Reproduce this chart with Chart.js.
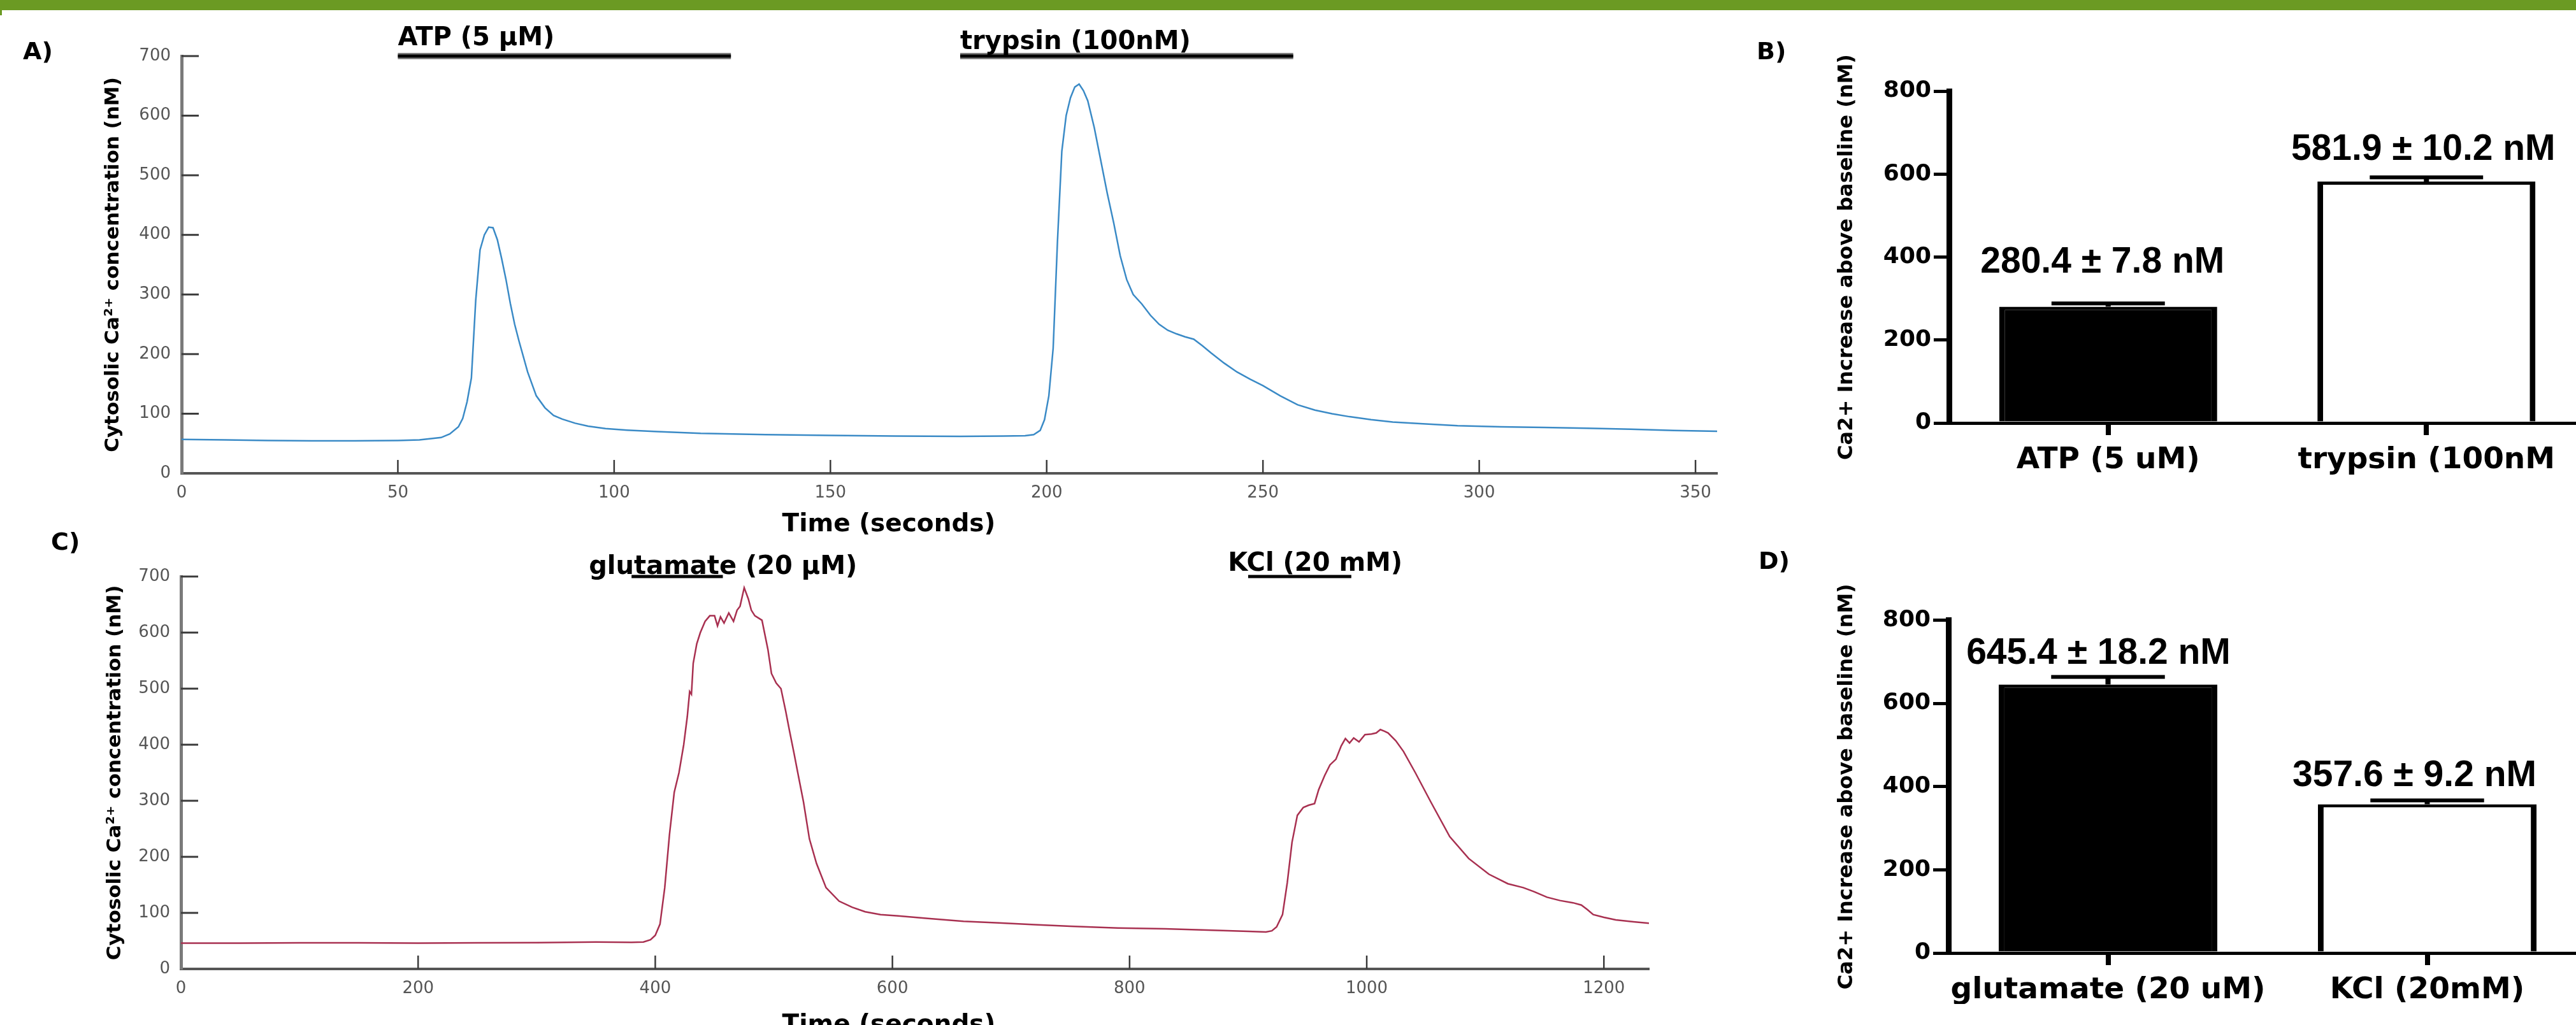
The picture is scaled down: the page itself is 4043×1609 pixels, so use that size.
<!DOCTYPE html>
<html><head><meta charset="utf-8">
<script src="https://cdn.jsdelivr.net/npm/chart.js@4.4.1/dist/chart.umd.min.js"></script>
<style>
html,body{margin:0;padding:0;background:#fff;overflow:hidden;width:4043px;height:1609px;position:relative}
#banner{position:absolute;left:0;top:0;width:4043px;height:16px;background:#6b9a23}
#nub{position:absolute;left:0;top:16px;width:3px;height:8px;background:#6b9a23}
canvas{position:absolute}
</style></head><body>
<div id="banner"></div><div id="nub"></div>
<canvas id="cA"></canvas><canvas id="cB"></canvas><canvas id="cC"></canvas><canvas id="cD"></canvas>
<script>
// ---------- data ----------
const timeA = [0,10,20,30,40,50,55,60,62,64,65,66,67,68,69,70,71,72,73,74,75,76,77,78,80,82,84,86,88,91,94,98,103,110,120,135,150,165,180,190,195,197,198.5,199.5,200.5,201.5,202.5,203.5,204.5,205.5,206.5,207.5,208.5,209.5,211,212.5,214,215.5,217,218.5,220,222,224,226,228,230,232,234,236,238,241,244,247,250,254,258,262,266,270,275,280,287,295,305,315,325,335,345,355];
const caA = [57,56,55,54.5,54.5,55,56,60,66,78,92,120,160,290,375,400,413,412,392,360,325,285,250,222,170,130,110,97,91,84,79,75,72.5,70,67,65,63.5,62.5,62,62.5,63,65,72,90,130,210,390,540,600,630,648,653,642,625,580,525,470,420,365,325,300,284,265,250,240,234,229,225,214,202,185,170,158,147,130,115,106,100,95,90,86,83,80,78,77,75.5,74,72,70.5];
const stimA = ['ATP (5 µM)', 'trypsin (100nM)'];
const stimAStart = [50, 180];
const stimAEnd = [127, 257];

const timeC = [0,50,100,150,200,250,300,350,380,390,396,400,404,408,412,416,420,424,427,429,430.5,432,435,438,442,446,450,452.5,455,458,462,466,469,471.5,475,478.5,481,484,490,495,498,502,506,510,513,517,520,525,530,536,544,555,566,577,590,605,630,660,690,720,750,790,830,870,900,915,920,924,929,933,937,941.5,946.5,951,956,959.5,964.5,969,974,978.5,982,985.5,989,993.5,998.5,1004,1008,1011.5,1015,1018,1024.5,1031,1041,1054,1070,1086,1103,1119,1132,1141,1152,1163,1174,1181,1186,1191,1200,1210,1225,1238];
const caC = [46,46,46.5,46.5,46,46.5,47,48,47.5,48,52,60,80,145,240,315,350,400,450,495,490,545,580,600,620,630,630,612,628,617,635,620,640,647,680,660,640,630,622,570,527,510,500,460,427,385,352,298,232,188,145,121,110,102,97,94.5,90,85,82,79,76,73,71.5,69,67,66,68,75,97,154,226,274,288,292,295,320,345,364,374,398,411,403,412,405,418,419,421,427,424,421,407,388,350,298,236,197,169,152,145,138,128,122,118,114,106,97,92,87.5,84,81.5];
const stimC = ['glutamate (20 µM)', 'KCl (20 mM)'];
const stimCStart = [380, 900];
const stimCEnd = [457, 987];

const catB = ['ATP (5 uM)', 'trypsin (100nM'];
const meanB = [280.4, 581.9];
const semB = [7.8, 10.2];
const catD = ['glutamate (20 uM)', 'KCl (20mM)'];
const meanD = [645.4, 357.6];
const semD = [18.2, 9.2];

const xTicksA = [0,50,100,150,200,250,300,350];
const xTicksC = [0,200,400,600,800,1000,1200];
const yTicksTrace = [0,100,200,300,400,500,600,700];
const yTicksBar = [0,200,400,600,800];

// ---------- layout helpers ----------
const boxes = {
  A: {x:0, y:0, w:2800, h:860},
  C: {x:0, y:800, w:2800, h:809},
  B: {x:2740, y:0, w:1360, h:800},
  D: {x:2740, y:800, w:1360, h:809}
};
function place(id, box){
  const c = document.getElementById(id);
  c.width = box.w; c.height = box.h;
  c.style.left = box.x + 'px'; c.style.top = box.y + 'px';
  c.style.width = box.w + 'px'; c.style.height = box.h + 'px';
  return c;
}
function frame(box, area, titleX, titleSize, xH){
  const tPad = 4;
  const left = titleX - box.x - 0.6 * titleSize - tPad;
  return {
    padding: {left: left, top: area.t - box.y, right: box.x + box.w - area.r, bottom: box.y + box.h - area.b - xH},
    yW: area.l - box.x - left, xH: xH, tPad: tPad
  };
}
Chart.defaults.font.family = '"DejaVu Sans", sans-serif';

function drawTexts(ctx, box, texts){
  ctx.save();
  ctx.translate(-box.x, -box.y);
  texts.forEach(t => {
    ctx.font = t.font; ctx.fillStyle = '#000';
    ctx.textAlign = t.align || 'left'; ctx.textBaseline = 'alphabetic';
    ctx.fillText(t.text, t.x, t.y);
  });
  ctx.restore();
}

// ---------- trace decorations (inward ticks, stimulus bars, labels) ----------
const traceDeco = {
  id: 'traceDeco',
  afterDraw(chart, args, o){
    const ctx = chart.ctx, xs = chart.scales.x, ys = chart.scales.y, ca = chart.chartArea;
    ctx.save();
    ctx.strokeStyle = '#3a3a3a';
    ctx.lineWidth = 3;
    ys.ticks.forEach(t => {
      if (t.value === 0) return;
      const py = ys.getPixelForValue(t.value);
      ctx.beginPath(); ctx.moveTo(ca.left, py); ctx.lineTo(ca.left + 27, py); ctx.stroke();
    });
    ctx.lineWidth = 2.5;
    xs.ticks.forEach(t => {
      if (t.value === 0) return;
      const px = xs.getPixelForValue(t.value);
      ctx.beginPath(); ctx.moveTo(px, ca.bottom); ctx.lineTo(px, ca.bottom - 21); ctx.stroke();
    });
    // stimulus bars
    const by = ys.getPixelForValue(700);
    o.starts.forEach((s, i) => {
      const x1 = xs.getPixelForValue(s), x2 = xs.getPixelForValue(o.ends[i]);
      ctx.lineCap = 'butt';
      if (o.outline) {
        ctx.strokeStyle = '#808080'; ctx.lineWidth = 10;
        ctx.beginPath(); ctx.moveTo(x1, by); ctx.lineTo(x2, by); ctx.stroke();
      }
      ctx.strokeStyle = '#000'; ctx.lineWidth = 5;
      ctx.beginPath(); ctx.moveTo(x1, by); ctx.lineTo(x2, by); ctx.stroke();
      ctx.font = 'bold 40px "DejaVu Sans"'; ctx.fillStyle = '#000';
      ctx.textAlign = 'left'; ctx.textBaseline = 'alphabetic';
      ctx.fillText(o.names[i], xs.getPixelForValue(o.textAt[i]), o.textY[i] - o.box.y);
    });
    ctx.restore();
    drawTexts(ctx, o.box, o.texts);
  }
};

function traceChart(id, box, area, times, values, color, xMax, xTicks, deco){
  const f = frame(box, area, deco.titleX, 31, 60);
  deco.box = box;
  return new Chart(place(id, box), {
    type: 'line',
    data: { datasets: [{ data: times.map((t, i) => ({x: t, y: values[i]})), borderColor: color, borderWidth: 2.5, pointRadius: 0, tension: 0, fill: false }] },
    options: {
      responsive: false, animation: false, devicePixelRatio: 1,
      layout: { padding: f.padding },
      plugins: { legend: {display: false}, tooltip: {enabled: false}, traceDeco: deco },
      scales: {
        x: {
          type: 'linear', min: 0, max: xMax,
          afterBuildTicks: s => { s.ticks = xTicks.map(v => ({value: v})); },
          afterFit: s => { s.height = f.xH; },
          grid: { display: true, drawOnChartArea: false, drawTicks: false },
          border: { display: true, color: '#555', width: 4 },
          ticks: { color: '#555', font: { size: 26 }, padding: 16, maxRotation: 0, autoSkip: false, callback: v => String(v) }
        },
        y: {
          min: 0, max: 700,
          afterBuildTicks: s => { s.ticks = yTicksTrace.map(v => ({value: v})); },
          afterFit: s => { s.width = f.yW; },
          grid: { display: true, drawOnChartArea: false, drawTicks: false },
          border: { display: true, color: '#7a7a7a', width: 5 },
          ticks: { color: '#555', font: { size: 26 }, padding: 17, callback: v => String(v) },
          title: { display: true, text: 'Cytosolic Ca²⁺ concentration (nM)', color: '#000', font: { size: 31, weight: 'bold' }, padding: { top: f.tPad, bottom: 0 } }
        }
      }
    },
    plugins: [traceDeco]
  });
}

// ---------- bar decorations (error bars, value labels) ----------
const barDeco = {
  id: 'barDeco',
  afterDatasetsDraw(chart, args, o){
    const ctx = chart.ctx, ys = chart.scales.y, meta = chart.getDatasetMeta(0);
    ctx.save();
    meta.data.forEach((bar, i) => {
      const m = o.mean[i], e = o.sem[i];
      const yTop = ys.getPixelForValue(m), yErr = ys.getPixelForValue(m + e);
      const half = bar.width * 0.26;
      ctx.fillStyle = '#000';
      ctx.fillRect(bar.x - 4, yErr, 8, yTop - yErr);
      ctx.fillRect(bar.x - half, yErr - 3, 2 * half, 6);
      ctx.font = 'bold 57px "Liberation Sans"';
      ctx.textAlign = 'center'; ctx.textBaseline = 'alphabetic';
      ctx.fillText(m.toFixed(1) + ' ± ' + e.toFixed(1) + ' nM', bar.x + o.dx[i], yErr - o.dy[i]);
    });
    ctx.restore();
    drawTexts(ctx, o.box, o.texts);
  }
};

function barChart(id, box, area, cats, means, sems, xH, deco){
  const f = frame(box, area, 2899, 32, xH);
  deco.box = box; deco.mean = means; deco.sem = sems;
  return new Chart(place(id, box), {
    type: 'bar',
    data: { labels: cats, datasets: [{ data: means, backgroundColor: ['#000', '#fff'], borderColor: '#000', borderWidth: {left: 9, right: 9, top: 5, bottom: 0}, barPercentage: 0.685, categoryPercentage: 1 }] },
    options: {
      responsive: false, animation: false, devicePixelRatio: 1,
      layout: { padding: f.padding },
      plugins: { legend: {display: false}, tooltip: {enabled: false}, barDeco: deco },
      scales: {
        x: {
          afterFit: s => { s.height = f.xH; },
          grid: { display: true, drawOnChartArea: false, offset: false, drawTicks: true, tickLength: 19, lineWidth: 8, color: '#000' },
          border: { display: true, width: 5, color: '#000' },
          ticks: { color: '#000', font: { size: 47, weight: 'bold' }, padding: 12, maxRotation: 0, autoSkip: false }
        },
        y: {
          min: 0, max: 800,
          afterBuildTicks: s => { s.ticks = yTicksBar.map(v => ({value: v})); },
          afterFit: s => { s.width = f.yW; },
          grid: { display: true, drawOnChartArea: false, drawTicks: true, tickLength: 24, lineWidth: 5, color: '#000' },
          border: { display: true, width: 9, color: '#000' },
          ticks: { color: '#000', font: { size: 36, weight: 'bold' }, padding: 4 },
          title: { display: true, text: 'Ca2+ Increase above baseline (nM)', color: '#000', font: { size: 32, weight: 'bold' }, padding: { top: f.tPad, bottom: 0 } }
        }
      }
    },
    plugins: [barDeco]
  });
}

const letterFont = 'bold 38px "DejaVu Sans"';
const axisFont = 'bold 39px "DejaVu Sans"';

traceChart('cA', boxes.A, {l: 285, r: 2695, t: 88, b: 743}, timeA, caA, '#3a8ac6', 355, xTicksA, {
  titleX: 178, names: stimA, starts: stimAStart, ends: stimAEnd, textAt: stimAStart, textY: [71, 77], outline: true,
  texts: [ {text: 'A)', x: 36, y: 93, font: letterFont}, {text: 'Time (seconds)', x: 1395, y: 834, font: axisFont, align: 'center'} ]
});
traceChart('cC', boxes.C, {l: 284, r: 2588, t: 905, b: 1521}, timeC, caC, '#a83050', 1238, xTicksC, {
  titleX: 181, names: stimC, starts: stimCStart, ends: stimCEnd, textAt: [344, 883], textY: [901, 896], outline: false,
  texts: [ {text: 'C)', x: 80, y: 863, font: letterFont}, {text: 'Time (seconds)', x: 1395, y: 1620, font: axisFont, align: 'center'} ]
});
barChart('cB', boxes.B, {l: 3059, r: 4058, t: 143, b: 664}, catB, meanB, semB, 100, {
  dx: [-9, -5], dy: [48, 27],
  texts: [ {text: 'B)', x: 2757, y: 93, font: letterFont} ]
});
barChart('cD', boxes.D, {l: 3058, r: 4060, t: 973.5, b: 1496}, catD, meanD, semD, 80, {
  dx: [-15, -20], dy: [21, 22],
  texts: [ {text: 'D)', x: 2760, y: 893, font: letterFont} ]
});
</script>
</body></html>
